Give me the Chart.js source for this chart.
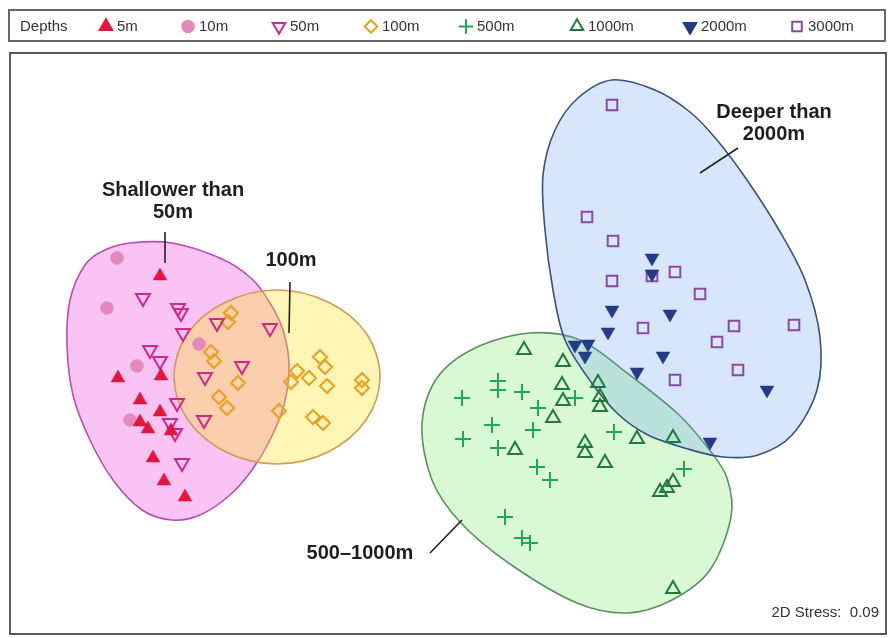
<!DOCTYPE html>
<html>
<head>
<meta charset="utf-8">
<script src="https://cdn.jsdelivr.net/npm/chart.js@4.4.0/dist/chart.umd.min.js"></script>
<style>
  html, body { margin: 0; padding: 0; background: #ffffff; }
  #wrap { width: 888px; height: 638px; }
</style>
</head>
<body>
<div id="wrap"><canvas id="c" width="888" height="638"></canvas></div>
<script>
// nMDS ordination of samples by depth (2D, stress 0.09)
const depthLabels = ['5m', '10m', '50m', '100m', '500m', '1000m', '2000m', '3000m'];

const pts5m = [[-2.88,0.68],[-3.30,-0.34],[-2.87,-0.32],[-3.08,-0.56],[-2.88,-0.68],[-3.08,-0.78],
  [-3.00,-0.85],[-2.77,-0.87],[-2.95,-1.14],[-2.84,-1.37],[-2.63,-1.53]];
const pts10m = [[-3.31,0.86],[-3.41,0.36],[-3.11,-0.22],[-3.18,-0.76],[-2.49,0.00]];
const pts50m = [[-3.05,0.46],[-2.70,0.36],[-2.67,0.31],[-2.65,0.11],[-2.98,-0.06],[-2.88,-0.17],
  [-2.43,-0.33],[-2.71,-0.59],[-2.78,-0.79],[-2.73,-0.89],[-2.66,-1.19],[-2.31,0.21],[-1.78,0.16],
  [-2.06,-0.22],[-2.44,-0.76]];
const pts100m = [[-2.17,0.31],[-2.20,0.22],[-2.37,-0.08],[-2.34,-0.17],[-2.10,-0.39],[-2.29,-0.53],
  [-2.21,-0.64],[-1.28,-0.13],[-1.23,-0.23],[-1.51,-0.27],[-1.39,-0.34],[-1.57,-0.38],[-1.21,-0.42],
  [-0.86,-0.36],[-0.86,-0.44],[-1.69,-0.67],[-1.35,-0.73],[-1.25,-0.79]];
const pts500m = [[0.14,-0.54],[0.50,-0.37],[0.50,-0.46],[0.74,-0.48],[0.90,-0.64],[1.27,-0.54],
  [0.44,-0.81],[0.85,-0.86],[0.15,-0.95],[0.50,-1.04],[0.89,-1.23],[1.02,-1.36],[0.57,-1.73],
  [0.74,-1.94],[0.82,-1.99],[1.66,-0.88],[2.36,-1.25]];
const pts1000m = [[0.76,-0.06],[1.15,-0.18],[1.14,-0.41],[1.15,-0.57],[1.05,-0.74],[1.50,-0.39],
  [1.52,-0.53],[1.52,-0.63],[0.67,-1.06],[1.37,-0.99],[1.37,-1.09],[1.57,-1.19],[1.89,-0.95],
  [2.25,-0.94],[2.25,-1.38],[2.19,-1.44],[2.12,-1.48],[2.25,-2.45]];
const pts2000m = [[2.04,0.86],[2.04,0.70],[1.64,0.34],[1.60,0.12],[2.22,0.30],[2.15,-0.12],[1.89,-0.28],
  [1.27,-0.01],[1.40,0.00],[1.37,-0.12],[3.19,-0.46],[2.62,-0.98]];
const pts3000m = [[1.64,2.39],[1.39,1.27],[1.65,1.03],[1.64,0.63],[2.04,0.68],[2.27,0.72],[2.52,0.50],
  [1.95,0.16],[2.86,0.18],[2.69,0.02],[2.90,-0.26],[2.27,-0.36],[3.46,0.19]];

// group outlines (boundary points in ordination units)
const hullShallow = [[-3.43,0.94],[-3.18,1.01],[-2.76,1.01],[-2.26,0.85],[-1.96,0.65],[-1.78,0.41],
  [-1.65,0.14],[-1.59,-0.21],[-1.64,-0.61],[-1.78,-0.96],[-1.96,-1.26],[-2.18,-1.51],[-2.48,-1.71],
  [-2.76,-1.76],[-3.06,-1.66],[-3.35,-1.36],[-3.58,-0.96],[-3.75,-0.51],[-3.81,-0.01],[-3.78,0.44],
  [-3.63,0.79]];
const hull100m = [[-0.68,-0.33],[-0.82,0.11],[-1.20,0.42],[-1.71,0.54],[-2.22,0.42],[-2.60,0.11],
  [-2.74,-0.33],[-2.60,-0.76],[-2.22,-1.08],[-1.71,-1.20],[-1.20,-1.08],[-0.82,-0.76]];
const hullMid = [[0.82,0.11],[0.27,-0.04],[-0.11,-0.34],[-0.26,-0.81],[-0.16,-1.36],[0.12,-1.78],
  [0.62,-2.20],[1.29,-2.59],[1.79,-2.69],[2.24,-2.56],[2.62,-2.26],[2.83,-1.73],[2.79,-1.34],
  [2.60,-1.04],[2.29,-0.69],[1.79,-0.29],[1.32,0.04]];
const hullDeep = [[1.64,2.64],[2.07,2.54],[2.42,2.32],[2.69,2.04],[2.99,1.64],[3.31,1.14],[3.57,0.64],
  [3.72,0.07],[3.69,-0.46],[3.44,-0.91],[3.10,-1.11],[2.75,-1.13],[2.40,-1.05],[2.00,-0.91],
  [1.70,-0.70],[1.43,-0.38],[1.17,0.04],[1.05,0.54],[0.97,1.14],[0.95,1.69],[1.07,2.14],[1.30,2.46]];

// group labels: text lines, anchor, leader line ends
const groupLabels = [
  { lines: ['Shallower than', '50m'], at: [-2.75, 1.54], leader: [[-2.83, 1.12], [-2.83, 0.81]] },
  { lines: ['100m'], at: [-1.57, 0.84], leader: [[-1.58, 0.62], [-1.59, 0.11]] },
  { lines: ['Deeper than', '2000m'], at: [3.26, 2.32], leader: [[2.90, 1.96], [2.52, 1.71]] },
  { lines: ['500\u20131000m'], at: [-0.88, -2.09], leader: [[-0.18, -2.09], [0.14, -1.76]] }
];
const stressText = '2D Stress:  0.09';

const series = [
  { label: '5m',    data: pts5m,    style: 'triangle', rot: 0,   r: 8,   color: '#e3173e', filled: true },
  { label: '10m',   data: pts10m,   style: 'circle',   rot: 0,   r: 6.5, color: '#e48abb', filled: true },
  { label: '50m',   data: pts50m,   style: 'triangle', rot: 180, r: 8,   color: '#d3268a', filled: false },
  { label: '100m',  data: pts100m,  style: 'rectRot',  rot: 0,   r: 7,   color: '#eea01c', filled: false },
  { label: '500m',  data: pts500m,  style: 'cross',    rot: 0,   r: 8,   color: '#20a955', filled: false },
  { label: '1000m', data: pts1000m, style: 'triangle', rot: 0,   r: 8,   color: '#1f7a3c', filled: false },
  { label: '2000m', data: pts2000m, style: 'triangle', rot: 180, r: 8,   color: '#243b86', filled: true },
  { label: '3000m', data: pts3000m, style: 'rect',     rot: 0,   r: 7.5, color: '#8a4aa8', filled: false }
];

const hulls = [
  { pts: hullShallow, fill: 'rgba(235,60,220,0.30)',  stroke: '#b64fb0' },
  { pts: hull100m,    fill: 'rgba(255,225,40,0.35)',  stroke: '#d49a55' },
  { pts: hullMid,     fill: 'rgba(100,230,80,0.25)',  stroke: '#5e8f62' },
  { pts: hullDeep,    fill: 'rgba(100,160,240,0.26)', stroke: '#3b4e86' }
];

function smoothClosedPath(ctx, p) {
  const n = p.length;
  ctx.beginPath();
  ctx.moveTo(p[0][0], p[0][1]);
  for (let i = 0; i < n; i++) {
    const p0 = p[(i - 1 + n) % n], p1 = p[i], p2 = p[(i + 1) % n], p3 = p[(i + 2) % n];
    ctx.bezierCurveTo(
      p1[0] + (p2[0] - p0[0]) / 6, p1[1] + (p2[1] - p0[1]) / 6,
      p2[0] - (p3[0] - p1[0]) / 6, p2[1] - (p3[1] - p1[1]) / 6,
      p2[0], p2[1]);
  }
  ctx.closePath();
}

const hullPlugin = {
  id: 'hulls',
  beforeDatasetsDraw(chart) {
    const { ctx, scales: { x, y }, chartArea: a } = chart;
    ctx.save();
    ctx.beginPath();
    ctx.rect(a.left, a.top, a.width, a.height);
    ctx.clip();
    hulls.forEach(h => {
      const px = h.pts.map(([vx, vy]) => [x.getPixelForValue(vx), y.getPixelForValue(vy)]);
      smoothClosedPath(ctx, px);
      ctx.fillStyle = h.fill;
      ctx.fill();
      ctx.lineWidth = 1.6;
      ctx.strokeStyle = h.stroke;
      ctx.stroke();
    });
    ctx.restore();
  }
};

const annotatePlugin = {
  id: 'annotate',
  afterDatasetsDraw(chart) {
    const { ctx, scales: { x, y }, chartArea: a } = chart;
    ctx.save();
    ctx.strokeStyle = '#222';
    ctx.lineWidth = 1.6;
    ctx.fillStyle = '#1e1e1e';
    ctx.font = 'bold 20px "Liberation Sans", Arial, sans-serif';
    ctx.textAlign = 'center';
    ctx.textBaseline = 'middle';
    groupLabels.forEach(g => {
      const [a0, a1] = g.leader;
      ctx.beginPath();
      ctx.moveTo(x.getPixelForValue(a0[0]), y.getPixelForValue(a0[1]));
      ctx.lineTo(x.getPixelForValue(a1[0]), y.getPixelForValue(a1[1]));
      ctx.stroke();
      const cx = x.getPixelForValue(g.at[0]);
      const cy = y.getPixelForValue(g.at[1]);
      g.lines.forEach((t, i) => ctx.fillText(t, cx, cy + i * 22));
    });
    // stress value, bottom-right corner of the plot
    ctx.font = '15px "Liberation Sans", Arial, sans-serif';
    ctx.fillStyle = '#333';
    ctx.textAlign = 'right';
    ctx.textBaseline = 'alphabetic';
    ctx.fillText(stressText, a.right - 6, a.bottom - 16);
    // plot frame
    ctx.strokeStyle = '#5a5a5a';
    ctx.lineWidth = 2;
    ctx.strokeRect(a.left - 1, a.top - 1, a.width + 2, a.height + 2);
    ctx.restore();
  }
};

const legendPlugin = {
  id: 'depthLegend',
  afterDraw(chart) {
    const ctx = chart.ctx;
    const boxTop = 10, boxBottom = 41, boxLeft = 9, boxRight = 885;
    const cy = (boxTop + boxBottom) / 2;
    const markerX = [106, 188, 279, 371, 466, 577, 690, 797];
    ctx.save();
    ctx.strokeStyle = '#666';
    ctx.lineWidth = 2;
    ctx.strokeRect(boxLeft, boxTop, boxRight - boxLeft, boxBottom - boxTop);
    ctx.font = '15px "Liberation Sans", Arial, sans-serif';
    ctx.fillStyle = '#333';
    ctx.textBaseline = 'middle';
    ctx.textAlign = 'left';
    ctx.fillText('Depths', 20, cy + 1);
    series.forEach((s, i) => {
      ctx.fillStyle = s.filled ? s.color : 'rgba(0,0,0,0)';
      ctx.strokeStyle = s.color;
      ctx.lineWidth = 2;
      Chart.helpers.drawPoint(ctx, { pointStyle: s.style, rotation: s.rot, radius: s.r * 0.9, borderWidth: s.filled ? 0.5 : 2 },
        markerX[i], cy + 1);
      ctx.fillStyle = '#333';
      ctx.fillText(depthLabels[i], markerX[i] + 11, cy + 1);
    });
    ctx.restore();
  }
};

new Chart(document.getElementById('c'), {
  type: 'scatter',
  data: {
    datasets: series.map(s => ({
      label: s.label,
      data: s.data.map(([vx, vy]) => ({ x: vx, y: vy })),
      pointStyle: s.style,
      rotation: s.rot,
      pointRadius: s.r,
      borderWidth: s.filled ? 0.5 : 2,
      borderColor: s.color,
      backgroundColor: s.filled ? s.color : 'rgba(0,0,0,0)'
    }))
  },
  options: {
    responsive: false,
    devicePixelRatio: 1,
    animation: false,
    layout: { autoPadding: false, padding: { left: 11, right: 3, top: 54, bottom: 5 } },
    plugins: { legend: { display: false }, tooltip: { enabled: false } },
    scales: {
      x: { type: 'linear', min: -4.37, max: 4.37, display: false },
      y: { type: 'linear', min: -2.89, max: 2.90, display: false }
    }
  },
  plugins: [hullPlugin, annotatePlugin, legendPlugin]
});
</script>
</body>
</html>
